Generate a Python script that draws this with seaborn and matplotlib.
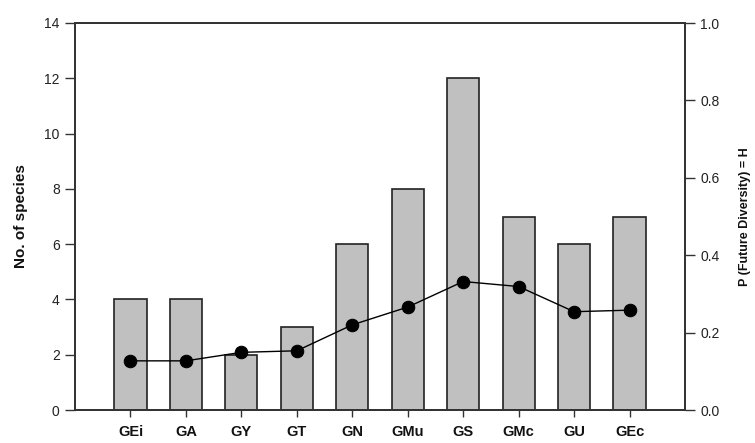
import numpy as np
import pandas as pd
import matplotlib.pyplot as plt
import seaborn as sns

categories = ["GEi", "GA", "GY", "GT", "GN", "GMu", "GS", "GMc", "GU", "GEc"]
species = [4, 4, 2, 3, 6, 8, 12, 7, 6, 7]
future_div = [0.127, 0.127, 0.149, 0.153, 0.220, 0.266, 0.332, 0.319, 0.254, 0.258]

df = pd.DataFrame({"site": categories, "species": species, "H": future_div})

sns.set_style("white")
plt.rcParams["font.family"] = ["Liberation Sans", "DejaVu Sans"]

fig = plt.figure(figsize=(7.55, 4.43), dpi=100)
ax = fig.add_axes([75 / 755, 1 - 410 / 443, 610 / 755, 387 / 443])

sns.barplot(data=df, x="site", y="species", color="#c0c0c0", edgecolor="#222222",
            linewidth=1.2, width=0.58, saturation=1, ax=ax)
ax.set_xlim(-1, 10)
ax.set_ylim(0, 14)
ax.set_yticks(range(0, 15, 2))
ax.set_xlabel("")
ax.set_ylabel("No. of species", fontsize=11, fontweight="bold", labelpad=12, color="#111111")
ax.tick_params(axis="y", direction="out", length=7, width=1, color="#333333",
               labelsize=10, pad=4, left=True, labelcolor="#222222")
ax.tick_params(axis="x", direction="out", length=5, width=1, color="#333333",
               labelsize=10.5, pad=6, bottom=True, labelcolor="#111111")
for lab in ax.get_xticklabels():
    lab.set_fontweight("bold")
for s in ax.spines.values():
    s.set_color("#333333")
    s.set_linewidth(1.3)

ax2 = ax.twinx()
sns.lineplot(x=np.arange(len(categories)), y=future_div, color="black", marker="o",
             markersize=9, markeredgecolor="black", linewidth=1, ax=ax2)
ax2.set_ylim(0, 1.0)
ax2.set_yticks(np.arange(0, 1.01, 0.2))
ax2.set_yticklabels([f"{v:.1f}" for v in np.arange(0, 1.01, 0.2)])
ax2.set_ylabel("P (Future Diversity) = H", fontsize=9, fontweight="bold", labelpad=14,
               color="#111111")
ax2.tick_params(axis="y", direction="out", length=7, width=1, color="#333333",
                labelsize=10, pad=4, right=True, labelcolor="#222222")
for s in ax2.spines.values():
    s.set_color("#333333")
    s.set_linewidth(1.3)

fig.savefig("out.png", dpi=100)
